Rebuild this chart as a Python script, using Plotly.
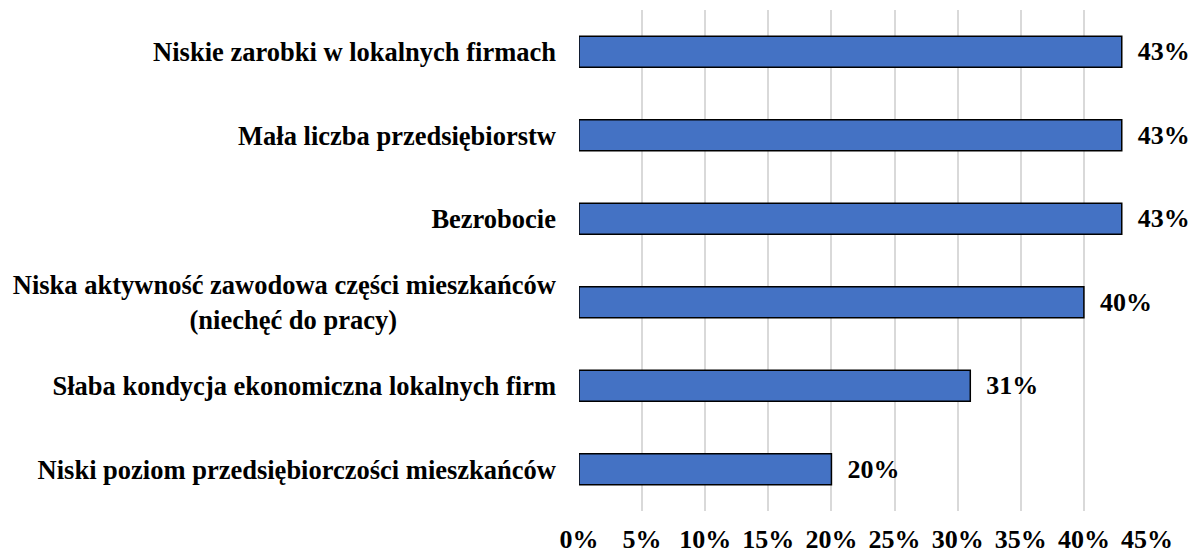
import plotly.graph_objects as go

categories = [
    "Niskie zarobki w lokalnych firmach",
    "Mała liczba przedsiębiorstw",
    "Bezrobocie",
    "Niska aktywność zawodowa części mieszkańców<br>(niechęć do pracy)" + "\u00a0" * 24,
    "Słaba kondycja ekonomiczna lokalnych firm",
    "Niski poziom przedsiębiorczości mieszkańców",
]
values = [0.43, 0.43, 0.43, 0.40, 0.31, 0.20]
tick_vals = [0, 0.05, 0.10, 0.15, 0.20, 0.25, 0.30, 0.35, 0.40, 0.45]
tick_text = ["0%", "5%", "10%", "15%", "20%", "25%", "30%", "35%", "40%", "45%"]

FONT = "Liberation Serif"

fig = go.Figure(go.Bar(
    x=values,
    y=categories,
    orientation="h",
    marker=dict(color="#4472C4", line=dict(color="black", width=1.5)),
    width=0.37,
    text=["\u00a0\u00a0" + f"{v:.0%}" for v in values],
    textposition="outside",
    textfont=dict(family=FONT, size=26, color="black", weight="bold"),
    cliponaxis=False,
    hoverinfo="skip",
))

fig.update_layout(
    width=1192, height=554,
    margin=dict(l=579, r=45, t=10, b=43),
    plot_bgcolor="white", paper_bgcolor="white",
    font=dict(family=FONT, size=26, color="black"),
    showlegend=False,
    xaxis=dict(
        range=[0, 0.45], tickvals=tick_vals, ticktext=tick_text,
        showgrid=True, gridcolor="#d9d9d9", gridwidth=1.5,
        zeroline=False, showline=False, ticks="",
        ticklabelstandoff=10, automargin=False,
        tickfont=dict(family=FONT, size=26, color="black", weight="bold"),
    ),
    yaxis=dict(
        autorange="reversed", showgrid=False, zeroline=False, showline=False,
        ticks="", ticklabelstandoff=22, automargin=False,
        tickfont=dict(family=FONT, size=26.5, color="black", weight="bold"),
    ),
)

fig.write_html(
    "out.html",
    config={"displayModeBar": False},
    post_script="document.body.style.margin='0px';",
)
